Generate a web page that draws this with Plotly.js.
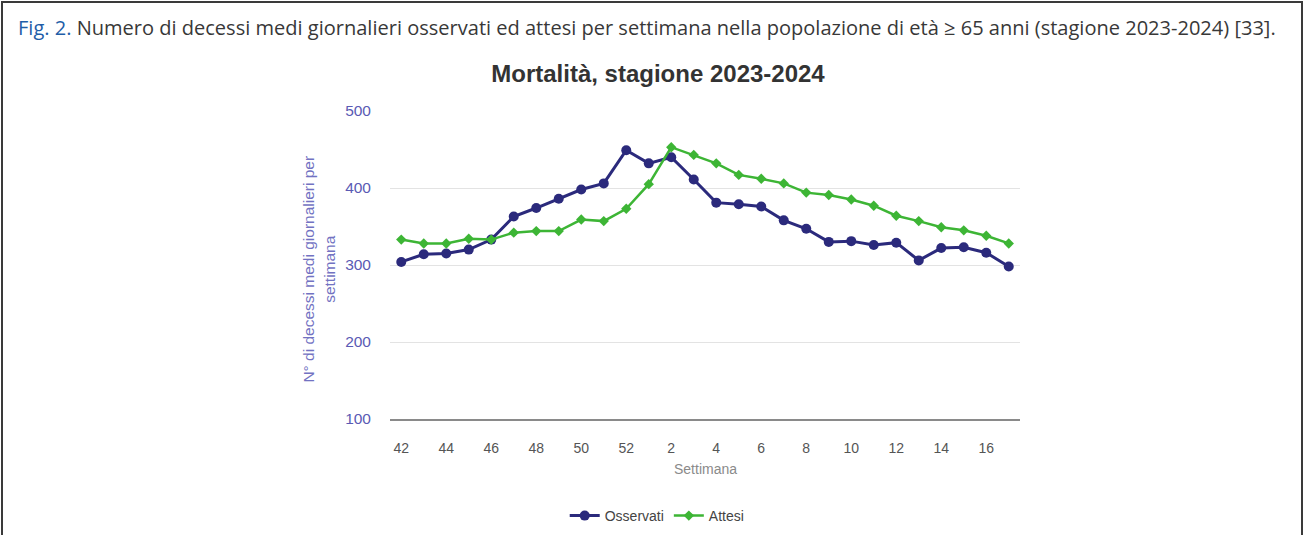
<!DOCTYPE html>
<html>
<head>
<meta charset="utf-8">
<script src="https://cdn.plot.ly/plotly-3.0.1.min.js"></script>
<style>
  html, body { margin: 0; padding: 0; background: #fff; }
  #frame {
    position: absolute; left: 1px; top: 1px; width: 1298px; height: 540px;
    border-left: 2px solid #3a3a3a; border-top: 2px solid #3a3a3a; border-right: 2px solid #3a3a3a;
  }
  #caption {
    position: absolute; left: 18px; top: 14px; white-space: nowrap;
    font-family: "Open Sans", "Noto Sans", sans-serif; font-size: 19px; color: #383838;
  }
  #caption .fig { color: #1f5ea8; }
  #chart { position: absolute; left: 0; top: 0; width: 1304px; height: 535px; }
</style>
</head>
<body>
<div id="chart"></div>
<div id="frame"></div>
<div id="caption"><span class="fig">Fig. 2.</span> Numero di decessi medi giornalieri osservati ed attesi per settimana nella popolazione di età ≥ 65 anni (stagione 2023-2024) [33].</div>
<script>
// Weeks of the 2023-2024 season
const weeks = ["42","43","44","45","46","47","48","49","50","51","52",
               "1","2","3","4","5","6","7","8","9","10","11","12","13","14","15","16","17"];
// Observed mean daily deaths
const osservati = [304,314,315,320,333,363,374,386,398,406,449,
                   432,440,411,381,379,376,358,347,330,331,326,329,306,322,323,316,298];
// Expected mean daily deaths
const attesi = [333,328,328,334,333,342,344,344,359,357,373,
                405,453,443,432,417,412,406,394,391,385,377,364,357,349,345,338,328];
const tickLabels = ["42","44","46","48","50","52","2","4","6","8","10","12","14","16"];
const yTicks = [100,200,300,400,500];

const traces = [
  {
    x: weeks, y: osservati, name: "Osservati", type: "scatter", mode: "lines+markers",
    line: {color: "#2b2a7c", width: 3},
    marker: {color: "#2b2a7c", size: 10, symbol: "circle"}
  },
  {
    x: weeks, y: attesi, name: "Attesi", type: "scatter", mode: "lines+markers",
    line: {color: "#3db535", width: 2.5},
    marker: {color: "#3db535", size: 8, symbol: "diamond"}
  }
];

const layout = {
  width: 1304, height: 535,
  margin: {l: 390, r: 284, t: 111, b: 116},
  paper_bgcolor: "rgba(0,0,0,0)", plot_bgcolor: "#fff",
  font: {family: "Liberation Sans, Arial, sans-serif", color: "#555"},
  showlegend: true,
  title: {
    text: "<b>Mortalità, stagione 2023-2024</b>",
    font: {size: 24, color: "#333", family: "Liberation Sans, Arial, sans-serif"},
    xref: "container", x: 0.5046, xanchor: "center",
    yref: "container", y: 1 - 74/535, yanchor: "middle"
  },
  xaxis: {
    type: "category", categoryorder: "array", categoryarray: weeks,
    range: [-0.5, weeks.length - 0.5],
    tickvals: tickLabels, ticktext: tickLabels,
    showgrid: false, zeroline: false,
    showline: true, linecolor: "#8a8a8a", linewidth: 1.5,
    ticks: "", ticklabelstandoff: 16,
    tickfont: {size: 14, color: "#555"}
  },
  yaxis: {
    range: [100, 500], tickvals: yTicks,
    showgrid: true, gridcolor: "#e3e3e3", gridwidth: 1,
    zeroline: false, showline: false,
    ticks: "", ticklabelstandoff: 18,
    tickfont: {size: 15.5, color: "#5a5ab4"}
  },
  legend: {
    orientation: "h", xref: "container", x: 0.504, xanchor: "center",
    yref: "container", y: 1 - 516/535, yanchor: "middle",
    font: {size: 14, color: "#444"}, itemwidth: 30, bgcolor: "rgba(0,0,0,0)"
  },
  annotations: [
    {
      text: "Settimana", xref: "paper", x: 0.5, xanchor: "center",
      yref: "paper", y: (419 - 469) / 308, yanchor: "middle",
      showarrow: false, font: {size: 14, color: "#8a8a8a"}
    },
    {
      text: "N° di decessi medi giornalieri per<br>settimana", textangle: -90,
      xref: "paper", x: (319 - 390) / 630, xanchor: "center",
      yref: "paper", y: 0.485, yanchor: "middle",
      showarrow: false, font: {size: 15.5, color: "#7272c2"}
    }
  ]
};

Plotly.newPlot("chart", traces, layout, {displayModeBar: false, staticPlot: true});

// fit caption width to the reference span (x 18 -> 1276) by font size
(function(){
  const cap = document.getElementById("caption");
  const target = 1258;
  const w = cap.getBoundingClientRect().width;
  const fs = 19 * target / w;
  cap.style.fontSize = fs.toFixed(2) + "px";
})();
</script>
</body>
</html>
